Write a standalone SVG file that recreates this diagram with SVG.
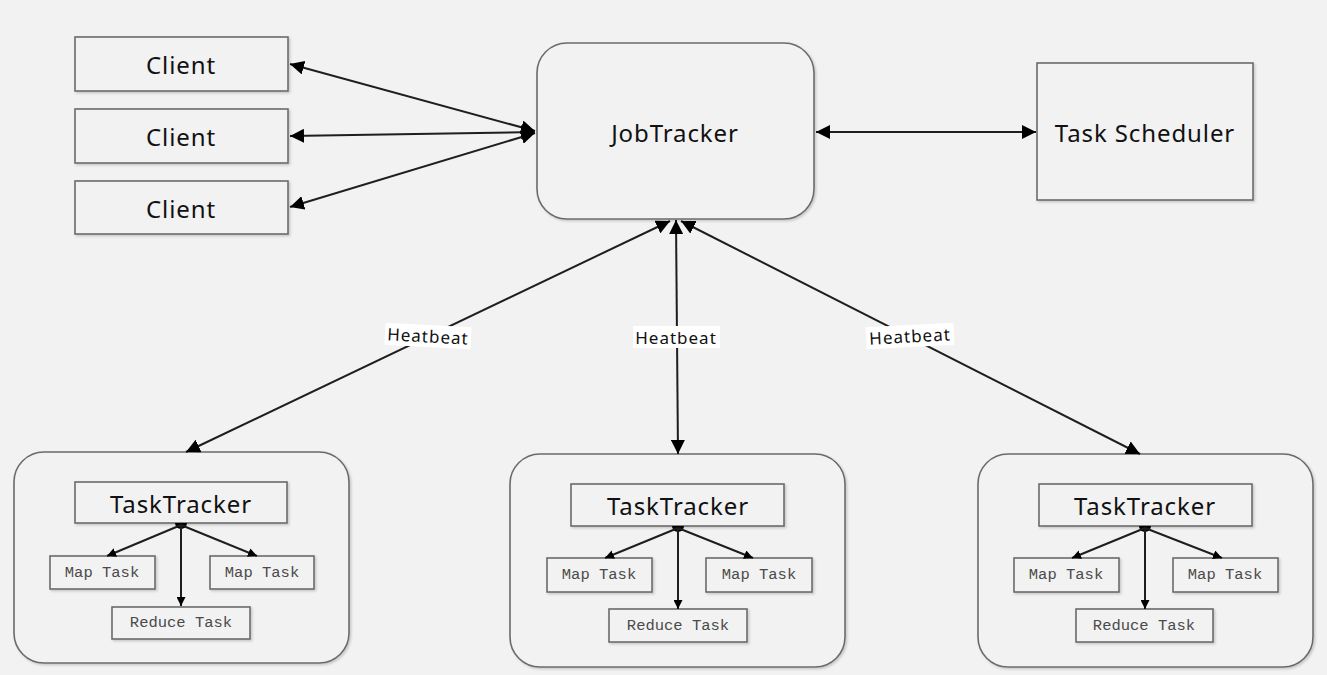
<svg xmlns="http://www.w3.org/2000/svg" width="1327" height="675" viewBox="0 0 1327 675">
<style>
.bg{fill:#f2f2f2}
.box{fill:#f2f2f2;stroke:#6b6b6b;stroke-width:1.6;filter:url(#sh)}
.ctr{fill:#f2f2f2;stroke:#6b6b6b;stroke-width:1.6;filter:url(#sh)}
.t{font-family:"Noto Sans","Open Sans","DejaVu Sans",sans-serif;font-size:24px;letter-spacing:0.9px;fill:#111;text-anchor:middle;dominant-baseline:central}
.m{font-family:"Liberation Mono","DejaVu Sans Mono",monospace;font-size:15.5px;fill:#4a4a4a;text-anchor:middle;dominant-baseline:central}
.hb{font-family:"Noto Sans","Open Sans","DejaVu Sans",sans-serif;font-size:17px;letter-spacing:1px;fill:#111;text-anchor:middle;dominant-baseline:central}
.c{stroke:#1e1e1e;stroke-width:2;fill:none}
.ci{stroke:#1e1e1e;stroke-width:2;fill:none}
.lb{fill:#ffffff}
</style>
<defs>
<filter id="sh" x="-5%" y="-5%" width="115%" height="120%">
<feDropShadow dx="1.5" dy="1.5" stdDeviation="1" flood-color="#000" flood-opacity="0.18"/>
</filter>
<marker id="ah" viewBox="0 0 14 14" refX="14" refY="7" markerWidth="14" markerHeight="14" markerUnits="userSpaceOnUse" orient="auto-start-reverse">
<path d="M0,0 L14,7 L0,14 Z" fill="#000"/>
</marker>
<marker id="as" viewBox="0 0 9 9" refX="9" refY="4.5" markerWidth="9" markerHeight="9" markerUnits="userSpaceOnUse" orient="auto">
<path d="M0,0 L9,4.5 L0,9 Z" fill="#000"/>
</marker>
</defs>
<rect class="bg" x="0" y="0" width="1327" height="675"/>

<g id="client1"><rect class="box" x="75" y="37" width="213" height="54"/><text class="t" x="181" y="64">Client</text></g>
<g id="client2"><rect class="box" x="75" y="109" width="213" height="54"/><text class="t" x="181" y="136">Client</text></g>
<g id="client3"><rect class="box" x="75" y="181" width="213" height="53"/><text class="t" x="181" y="208">Client</text></g>
<g id="jobtracker"><rect class="box" x="537" y="43" width="277" height="176" rx="30" ry="30"/><text class="t" x="675" y="132">JobTracker</text></g>
<g id="scheduler"><rect class="box" x="1037" y="63" width="216" height="137"/><text class="t" x="1145" y="132">Task Scheduler</text></g>

<g id="tt1">
<rect class="ctr" x="14" y="452" width="335" height="211" rx="30" ry="30"/>
<rect class="box" x="75" y="482" width="212" height="41"/><text class="t" x="181" y="503">TaskTracker</text>
<rect class="box" x="50" y="556" width="105" height="33"/><text class="m" x="102" y="573">Map Task</text>
<rect class="box" x="210" y="556" width="104" height="33"/><text class="m" x="262" y="573">Map Task</text>
<rect class="box" x="112" y="607" width="138" height="32"/><text class="m" x="181" y="623">Reduce Task</text>
</g>
<g id="tt2">
<rect class="ctr" x="510" y="454" width="335" height="213" rx="30" ry="30"/>
<rect class="box" x="571" y="484" width="213" height="42"/><text class="t" x="678" y="505">TaskTracker</text>
<rect class="box" x="547" y="558" width="105" height="34"/><text class="m" x="599" y="575">Map Task</text>
<rect class="box" x="706" y="558" width="106" height="34"/><text class="m" x="759" y="575">Map Task</text>
<rect class="box" x="609" y="609" width="138" height="33"/><text class="m" x="678" y="626">Reduce Task</text>
</g>
<g id="tt3">
<rect class="ctr" x="978" y="454" width="335" height="213" rx="30" ry="30"/>
<rect class="box" x="1039" y="484" width="213" height="42"/><text class="t" x="1145" y="505">TaskTracker</text>
<rect class="box" x="1014" y="558" width="105" height="34"/><text class="m" x="1066" y="575">Map Task</text>
<rect class="box" x="1173" y="558" width="105" height="34"/><text class="m" x="1225" y="575">Map Task</text>
<rect class="box" x="1076" y="609" width="137" height="33"/><text class="m" x="1144" y="626">Reduce Task</text>
</g>

<g id="connectors">
<line class="c" x1="290" y1="64" x2="535" y2="131" marker-start="url(#ah)" marker-end="url(#ah)"/>
<line class="c" x1="290" y1="136" x2="535" y2="132" marker-start="url(#ah)" marker-end="url(#ah)"/>
<line class="c" x1="290" y1="207" x2="535" y2="133" marker-start="url(#ah)" marker-end="url(#ah)"/>
<line class="c" x1="816" y1="132" x2="1036" y2="132" marker-start="url(#ah)" marker-end="url(#ah)"/>
<line class="c" x1="670" y1="221" x2="186" y2="452" marker-start="url(#ah)" marker-end="url(#ah)"/>
<line class="c" x1="676" y1="220" x2="678" y2="454" marker-start="url(#ah)" marker-end="url(#ah)"/>
<line class="c" x1="681" y1="221" x2="1140" y2="454" marker-start="url(#ah)" marker-end="url(#ah)"/>
<g transform="rotate(3 428 336)"><rect class="lb" x="385" y="325" width="86" height="22"/><text class="hb" x="428" y="336">Heatbeat</text></g>
<rect class="lb" x="633" y="326" width="87" height="22"/><text class="hb" x="676" y="337">Heatbeat</text>
<g transform="rotate(-3 910 336)"><rect class="lb" x="866" y="325" width="88" height="22"/><text class="hb" x="910" y="336">Heatbeat</text></g>

<path d="M175,523 A6,6 0 0 0 187,523 Z" fill="#000"/>
<line class="ci" x1="181" y1="525" x2="107" y2="556" marker-end="url(#as)"/>
<line class="ci" x1="181" y1="525" x2="181" y2="606" marker-end="url(#as)"/>
<line class="ci" x1="181" y1="525" x2="257" y2="556" marker-end="url(#as)"/>

<path d="M672,526 A6,6 0 0 0 684,526 Z" fill="#000"/>
<line class="ci" x1="678" y1="528" x2="605" y2="558" marker-end="url(#as)"/>
<line class="ci" x1="678" y1="528" x2="678" y2="609" marker-end="url(#as)"/>
<line class="ci" x1="678" y1="528" x2="753" y2="558" marker-end="url(#as)"/>

<path d="M1139,526 A6,6 0 0 0 1151,526 Z" fill="#000"/>
<line class="ci" x1="1145" y1="528" x2="1072" y2="558" marker-end="url(#as)"/>
<line class="ci" x1="1145" y1="528" x2="1145" y2="609" marker-end="url(#as)"/>
<line class="ci" x1="1145" y1="528" x2="1222" y2="558" marker-end="url(#as)"/>
</g>
</svg>
